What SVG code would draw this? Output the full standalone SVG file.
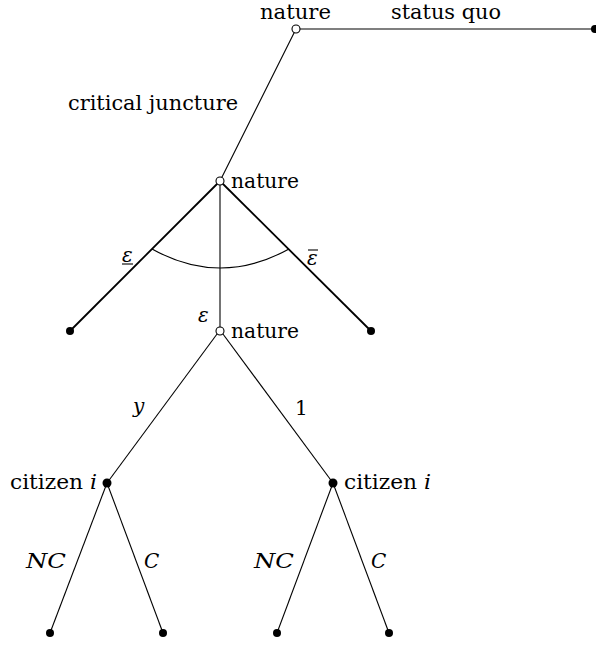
<svg xmlns="http://www.w3.org/2000/svg" width="596" height="645" viewBox="0 0 596 645">
<style>
.t{font-family:'DejaVu Serif', serif;font-size:20px;fill:#000}
.it{font-style:italic}
.e{stroke:#000;stroke-width:1.1;fill:none}
.th{stroke:#000;stroke-width:1.8;fill:none}
.open{fill:#fff;stroke:#000;stroke-width:1.1}
.dot{fill:#000}
</style>
<rect width="596" height="645" fill="#fff"/>
<g id="connectors">
<line class="e" x1="296" y1="29" x2="595" y2="29"/>
<line class="e" x1="296" y1="29" x2="220" y2="181"/>
<line class="th" x1="220" y1="181" x2="70" y2="331"/>
<line class="th" x1="220" y1="181" x2="371" y2="331"/>
<line class="e" x1="220" y1="181" x2="220" y2="330"/>
<path class="e" d="M152,249 Q220,287 289,249"/>
<line class="e" x1="220" y1="330" x2="107" y2="483"/>
<line class="e" x1="220" y1="330" x2="333" y2="483"/>
<line class="e" x1="107" y1="483" x2="50" y2="633"/>
<line class="e" x1="107" y1="483" x2="163" y2="633"/>
<line class="e" x1="333" y1="483" x2="277" y2="633"/>
<line class="e" x1="333" y1="483" x2="389" y2="633"/>
</g>
<g id="labels" class="t">
<text x="391" y="19" textLength="110" lengthAdjust="spacingAndGlyphs">status quo</text>
<text x="68" y="110" textLength="170" lengthAdjust="spacingAndGlyphs">critical juncture</text>
<text class="it" x="122" y="262">ε</text>
<line class="e" x1="122" y1="264" x2="133" y2="264"/>
<text class="it" x="307" y="265">ε</text>
<line class="e" x1="308" y1="250" x2="318" y2="250"/>
<text class="it" x="198" y="322">ε</text>
<text class="it" x="133" y="413">y</text>
<text x="295" y="415">1</text>
<text class="it" x="26" y="568" textLength="40" lengthAdjust="spacingAndGlyphs">NC</text>
<text class="it" x="144" y="568">C</text>
<text class="it" x="254" y="568" textLength="40" lengthAdjust="spacingAndGlyphs">NC</text>
<text class="it" x="371" y="568">C</text>
</g>
<g id="n-top" class="t">
<circle class="open" cx="296" cy="29" r="4"/>
<text x="260" y="19" textLength="71" lengthAdjust="spacingAndGlyphs">nature</text>
</g>
<g id="n-sq">
<circle class="dot" cx="595" cy="29" r="4"/>
</g>
<g id="n-mid" class="t">
<circle class="open" cx="220" cy="181" r="4"/>
<text x="231" y="188" textLength="68" lengthAdjust="spacingAndGlyphs">nature</text>
</g>
<g id="n-lowleft"><circle class="dot" cx="70" cy="331" r="4"/></g>
<g id="n-lowright"><circle class="dot" cx="371" cy="331" r="4"/></g>
<g id="n-low" class="t">
<circle class="open" cx="220" cy="331" r="4"/>
<text x="231" y="338" textLength="68" lengthAdjust="spacingAndGlyphs">nature</text>
</g>
<g id="c-left" class="t">
<circle class="dot" cx="107" cy="483" r="4.5"/>
<text x="10" y="489" textLength="87" lengthAdjust="spacingAndGlyphs">citizen <tspan class="it">i</tspan></text>
</g>
<g id="c-right" class="t">
<circle class="dot" cx="333" cy="483" r="4.5"/>
<text x="344" y="489" textLength="87" lengthAdjust="spacingAndGlyphs">citizen <tspan class="it">i</tspan></text>
</g>
<g id="leaf1"><circle class="dot" cx="50" cy="633" r="4"/></g>
<g id="leaf2"><circle class="dot" cx="163" cy="633" r="4"/></g>
<g id="leaf3"><circle class="dot" cx="277" cy="633" r="4"/></g>
<g id="leaf4"><circle class="dot" cx="389" cy="633" r="4"/></g>
</svg>
